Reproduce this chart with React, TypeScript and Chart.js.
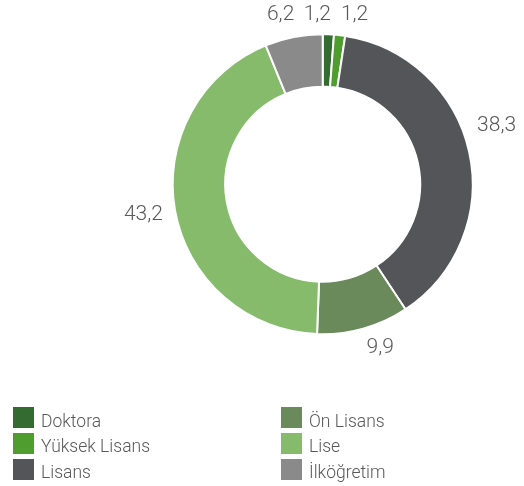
import React, { useEffect, useRef } from "react";
import { Chart, registerables } from "chart.js";

Chart.register(...registerables);

const categories = ["Doktora", "Yüksek Lisans", "Lisans", "Ön Lisans", "Lise", "İlköğretim"];
const values = [1.2, 1.2, 38.3, 9.9, 43.2, 6.2];
const valueLabels = ["1,2", "1,2", "38,3", "9,9", "43,2", "6,2"];
const colors = ["#336b30", "#4f9c2f", "#545559", "#6a8a5b", "#86bb6c", "#8a8a8b"];

// legend layout: column / row per category
const legendCol = [0, 0, 0, 1, 1, 1];
const legendRow = [0, 1, 2, 0, 1, 2];

const TEXT_COLOR = "#58585a";
const FONT = "Roboto, 'Open Sans', Lato, sans-serif";

// small nudges for outside labels (styling only)
const labelNudge: [number, number][] = [[-12, 6], [12, 5], [2, -21], [10, -6], [-6, 0], [-8, 3]];

const outsideLabels = {
  id: "outsideLabels",
  afterDatasetsDraw(chart: any) {
    const ctx = chart.ctx;
    const meta = chart.getDatasetMeta(0);
    ctx.save();
    ctx.font = `300 21px ${FONT}`;
    ctx.fillStyle = TEXT_COLOR;
    ctx.textAlign = "center";
    ctx.textBaseline = "middle";
    meta.data.forEach((arc: any, i: number) => {
      const { x, y, startAngle, endAngle, outerRadius } = arc.getProps(
        ["x", "y", "startAngle", "endAngle", "outerRadius"],
        true
      );
      const mid = (startAngle + endAngle) / 2;
      const r = outerRadius + 26;
      const lx = x + Math.cos(mid) * r + labelNudge[i][0];
      const ly = y + Math.sin(mid) * r + labelNudge[i][1];
      ctx.fillText(valueLabels[i], lx, ly);
    });
    ctx.restore();
  },
};

export default function App() {
  const ref = useRef<HTMLCanvasElement>(null);
  useEffect(() => {
    if (!ref.current) return;
    const chart = new Chart(ref.current, {
      type: "doughnut",
      data: {
        labels: categories,
        datasets: [
          {
            data: values,
            backgroundColor: colors,
            borderColor: "#ffffff",
            borderWidth: 2,
          },
        ],
      },
      options: {
        responsive: false,
        animation: false,
        cutout: "65%",
        layout: { padding: { left: 171.7, right: 50.3, top: 33.2, bottom: 150.8 } },
        plugins: {
          legend: { display: false },
          tooltip: { enabled: false },
        },
      },
      plugins: [outsideLabels],
    });
    return () => chart.destroy();
  }, []);

  return (
    <div style={{ position: "absolute", left: 0, top: 0, width: 524, height: 486, background: "#fff" }}>
      <canvas ref={ref} width={524} height={486} style={{ position: "absolute", left: 0, top: 0 }} />
      {categories.map((c, i) => {
        const left = legendCol[i] === 0 ? 13 : 281;
        const top = 407 + legendRow[i] * 25.8;
        return (
          <div
            key={c}
            style={{
              position: "absolute",
              left,
              top,
              height: 21,
              display: "flex",
              alignItems: "center",
              whiteSpace: "nowrap",
            }}
          >
            <span style={{ display: "inline-block", width: 21, height: 21, background: colors[i] }} />
            <span
              style={{
                marginLeft: 7,
                fontFamily: FONT,
                fontWeight: 300,
                fontSize: 17.5,
                color: TEXT_COLOR,
                position: "relative",
                top: 3,
              }}
            >
              {c}
            </span>
          </div>
        );
      })}
    </div>
  );
}
